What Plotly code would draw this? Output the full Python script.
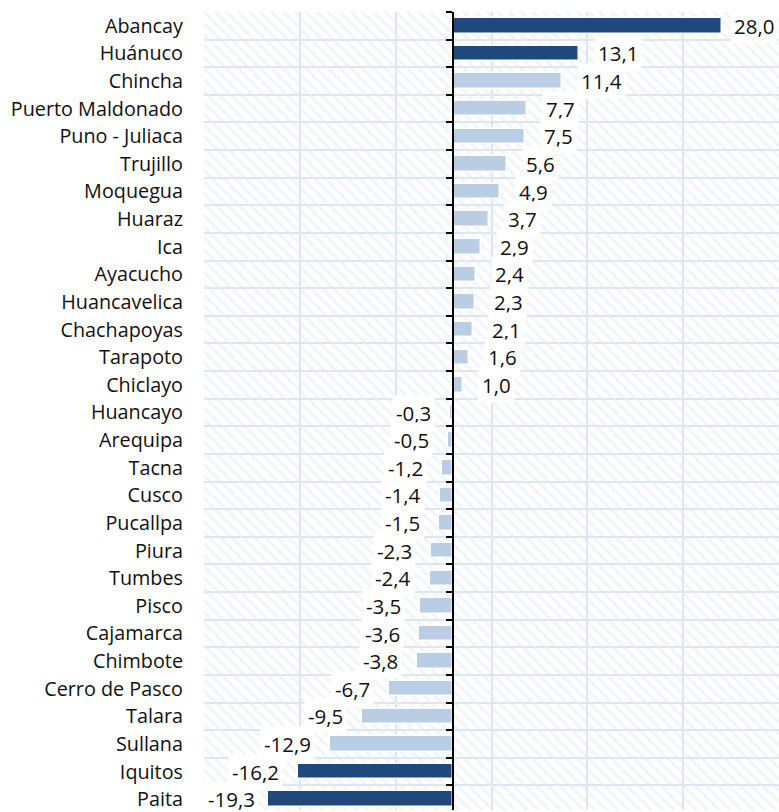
import plotly.graph_objects as go

cities = ["Abancay", "Huánuco", "Chincha", "Puerto Maldonado", "Puno - Juliaca", "Trujillo",
          "Moquegua", "Huaraz", "Ica", "Ayacucho", "Huancavelica", "Chachapoyas", "Tarapoto",
          "Chiclayo", "Huancayo", "Arequipa", "Tacna", "Cusco", "Pucallpa", "Piura", "Tumbes",
          "Pisco", "Cajamarca", "Chimbote", "Cerro de Pasco", "Talara", "Sullana", "Iquitos", "Paita"]
values = [28.0, 13.1, 11.4, 7.7, 7.5, 5.6, 4.9, 3.7, 2.9, 2.4, 2.3, 2.1, 1.6, 1.0,
          -0.3, -0.5, -1.2, -1.4, -1.5, -2.3, -2.4, -3.5, -3.6, -3.8, -6.7, -9.5, -12.9, -16.2, -19.3]
highlight = ["Abancay", "Huánuco", "Iquitos", "Paita"]

X_MIN, X_MAX = -26, 34
DARK = "#1F497D"
LIGHT = "#B9CDE5"
GRID = "#DCE6F2"
FONT = "Open Sans"
TXT = "#111111"

n = len(cities)
colors = [DARK if c in highlight else LIGHT for c in cities]
labels = [f"{v:.1f}".replace(".", ",") for v in values]

fig = go.Figure()

# hatched background band per category row
fig.add_trace(go.Bar(
    y=cities, x=[X_MAX - X_MIN] * n, base=[X_MIN] * n, orientation="h", width=1,
    marker=dict(color="rgba(0,0,0,0)", line=dict(width=0),
                pattern=dict(shape="\\", fgcolor="#E1E9F4", bgcolor="rgba(0,0,0,0)",
                             size=8, solidity=0.35)),
    hoverinfo="skip", showlegend=False,
))

fig.add_trace(go.Bar(
    y=cities, x=values, orientation="h", width=0.56,
    marker=dict(color=colors, line=dict(color="white", width=1.5)),
    showlegend=False,
))

# invisible trace to carry the zero-positioned category axis
fig.add_trace(go.Bar(y=cities, x=[0] * n, orientation="h", yaxis="y2",
                     marker=dict(color="rgba(0,0,0,0)"), hoverinfo="skip", showlegend=False))

lab_font = dict(family=FONT, size=20.5, color=TXT)
annotations = []
for c, v, t in zip(cities, values, labels):
    common = dict(y=c, text=t, showarrow=False, bgcolor="white", borderpad=3, font=lab_font)
    if v >= 0:
        if v > 25:
            annotations.append(dict(x=X_MAX, xanchor="right", xshift=-1, **common))
        else:
            annotations.append(dict(x=v, xanchor="left", xshift=15, **common))
    else:
        if v < -18:
            annotations.append(dict(x=X_MIN, xanchor="left", xshift=0, **common))
        else:
            annotations.append(dict(x=v, xanchor="right", xshift=-15, **common))

yr = [28.39, -0.5]
fig.update_layout(
    width=779, height=812,
    margin=dict(l=204, r=0, t=12, b=0),
    paper_bgcolor="white", plot_bgcolor="white",
    barmode="overlay", bargap=0,
    font=dict(family=FONT, size=19.8, color=TXT),
    annotations=annotations,
    xaxis=dict(range=[X_MIN, X_MAX], tick0=X_MIN, dtick=10, showticklabels=False,
               showgrid=True, gridcolor=GRID, gridwidth=2, zeroline=False, fixedrange=True),
    yaxis=dict(categoryorder="array", categoryarray=cities, range=yr,
               tickson="boundaries", showgrid=True, gridcolor=GRID, gridwidth=2,
               ticks="", ticklabelstandoff=20, showline=False, zeroline=False,
               tickfont=dict(family=FONT, size=19.8, color=TXT)),
    yaxis2=dict(categoryorder="array", categoryarray=cities, range=yr,
                overlaying="y", anchor="free", position=(0 - X_MIN) / (X_MAX - X_MIN),
                side="left", tickson="boundaries", ticks="outside", ticklen=6, tickwidth=2,
                tickcolor="black", showline=True, linecolor="black", linewidth=2,
                showticklabels=False, showgrid=False, zeroline=False),
)

fig.write_html("out.html", config={"displayModeBar": False},
               post_script="document.body.style.margin='0';document.body.style.overflow='hidden';")
